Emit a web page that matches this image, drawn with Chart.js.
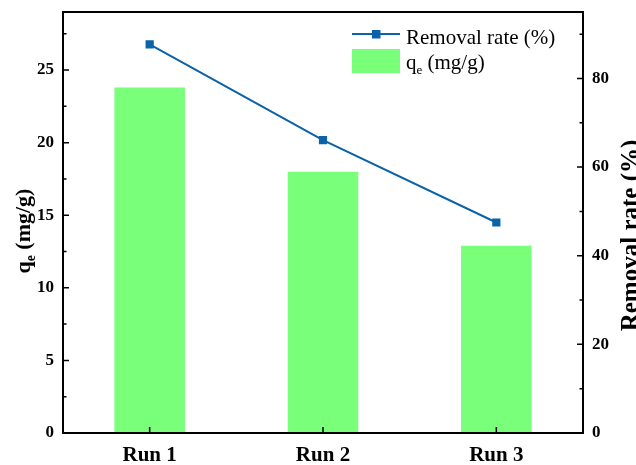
<!DOCTYPE html>
<html>
<head>
<meta charset="utf-8">
<script src="https://cdn.jsdelivr.net/npm/chart.js@4/dist/chart.umd.min.js"></script>
<style>
  html, body { margin: 0; padding: 0; background: #fff; }
  #wrap { width: 636px; height: 465px; position: relative; }
</style>
</head>
<body>
<div id="wrap"><canvas id="c"></canvas></div>
<script>
// Adsorption runs: equilibrium uptake (bars, left axis) and removal rate (line, right axis)
const categories = ['Run 1', 'Run 2', 'Run 3'];
const qeValues = [23.8, 18.0, 12.9];        // q_e in mg/g
const removalRates = [87.7, 66.1, 47.5];     // removal rate in %

const SERIF = '"Liberation Serif", "Times New Roman", serif';
const BAR_COLOR = '#7AFF7A';
const LINE_COLOR = '#0A62A8';

// Draws text with a subscript part, starting at (x, y) on the baseline
function drawSubText(ctx, parts, x, y, size, weight) {
  let cx = x;
  parts.forEach(p => {
    const s = p.sub ? size * 0.62 : size;
    ctx.font = weight + ' ' + s + 'px ' + SERIF;
    ctx.fillText(p.t, cx, y + (p.sub ? size * 0.22 : 0));
    cx += ctx.measureText(p.t).width;
  });
  return cx - x;
}
function measureSubText(ctx, parts, size, weight) {
  let w = 0;
  parts.forEach(p => {
    const s = p.sub ? size * 0.62 : size;
    ctx.font = weight + ' ' + s + 'px ' + SERIF;
    w += ctx.measureText(p.t).width;
  });
  return w;
}

const framePlugin = {
  id: 'frame',
  afterDraw(chart) {
    const ctx = chart.ctx;
    const a = chart.chartArea;
    const x = chart.scales.x, y = chart.scales.y, y2 = chart.scales.y2;
    ctx.save();
    ctx.strokeStyle = '#000';
    ctx.lineWidth = 2;
    ctx.strokeRect(a.left, a.top, a.right - a.left, a.bottom - a.top);

    // inward tick marks
    ctx.lineWidth = 1.5;
    ctx.beginPath();
    y.ticks.map(t => t.value).forEach(v => {
      const py = y.getPixelForValue(v);
      ctx.moveTo(a.left, py); ctx.lineTo(a.left + 6, py);
      const mid = v + 2.5;
      if (mid < y.max) {
        const pm = y.getPixelForValue(mid);
        ctx.moveTo(a.left, pm); ctx.lineTo(a.left + 3.5, pm);
      }
    });
    y2.ticks.map(t => t.value).forEach(v => {
      const py = y2.getPixelForValue(v);
      ctx.moveTo(a.right, py); ctx.lineTo(a.right - 6, py);
      const mid = v + 10;
      if (mid < y2.max) {
        const pm = y2.getPixelForValue(mid);
        ctx.moveTo(a.right, pm); ctx.lineTo(a.right - 3.5, pm);
      }
    });
    categories.forEach((c, i) => {
      const px = x.getPixelForValue(i);
      ctx.moveTo(px, a.bottom); ctx.lineTo(px, a.bottom - 6);
    });
    ctx.stroke();

    // axis titles
    ctx.fillStyle = '#000';
    ctx.textBaseline = 'alphabetic';
    ctx.textAlign = 'left';
    const leftTitle = [{t: 'q'}, {t: 'e', sub: true}, {t: ' (mg/g)'}];
    ctx.save();
    ctx.translate(30, 231);
    ctx.rotate(-Math.PI / 2);
    const lw = measureSubText(ctx, leftTitle, 22, 'bold');
    drawSubText(ctx, leftTitle, -lw / 2, 0, 22, 'bold');
    ctx.restore();

    ctx.save();
    ctx.translate(638, 235.5);
    ctx.rotate(-Math.PI / 2);
    ctx.font = 'bold 25px ' + SERIF;
    ctx.textAlign = 'center';
    ctx.fillText('Removal rate (%)', 0, 0);
    ctx.restore();

    // legend
    const lx = 352;
    ctx.strokeStyle = LINE_COLOR;
    ctx.lineWidth = 2;
    ctx.beginPath();
    ctx.moveTo(lx, 34); ctx.lineTo(lx + 48, 34);
    ctx.stroke();
    ctx.fillStyle = LINE_COLOR;
    ctx.fillRect(lx + 20, 30, 8.5, 8.5);
    ctx.fillStyle = BAR_COLOR;
    ctx.fillRect(lx, 49, 48, 24);
    ctx.fillStyle = '#000';
    ctx.font = '21px ' + SERIF;
    ctx.fillText('Removal rate (%)', 406, 44);
    drawSubText(ctx, [{t: 'q'}, {t: 'e', sub: true}, {t: ' (mg/g)'}], 406, 69, 21, 'normal');
    ctx.restore();
  }
};

function fixVertical(width) {
  return function (s) {
    s.width = width;
    s.paddingTop = 0;
    s.paddingBottom = 0;
  };
}

new Chart(document.getElementById('c'), {
  type: 'bar',
  data: {
    labels: categories,
    datasets: [
      {
        type: 'line',
        label: 'Removal rate (%)',
        data: removalRates,
        yAxisID: 'y2',
        borderColor: LINE_COLOR,
        backgroundColor: LINE_COLOR,
        borderWidth: 2,
        pointStyle: 'rect',
        pointRadius: 5.8,
        pointBorderWidth: 0,
        tension: 0,
        order: 0
      },
      {
        type: 'bar',
        label: 'qe (mg/g)',
        data: qeValues,
        yAxisID: 'y',
        backgroundColor: BAR_COLOR,
        borderWidth: 0,
        barPercentage: 0.407,
        categoryPercentage: 1,
        order: 1
      }
    ]
  },
  options: {
    responsive: true,
    maintainAspectRatio: false,
    animation: false,
    layout: { padding: { top: 12, left: 0, right: 0, bottom: 0 } },
    plugins: { legend: { display: false }, tooltip: { enabled: false } },
    scales: {
      x: {
        offset: true,
        grid: { display: false, drawTicks: false },
        border: { display: false },
        ticks: { color: '#000', padding: 10, font: { family: SERIF, size: 21, weight: 'bold' } },
        afterFit(s) { s.height = 32; s.paddingLeft = 0; s.paddingRight = 0; }
      },
      y: {
        position: 'left',
        min: 0, max: 29,
        grid: { display: false, drawTicks: false },
        border: { display: false },
        ticks: { stepSize: 5, includeBounds: false, color: '#000', padding: 9, font: { family: SERIF, size: 17, weight: 'bold' } },
        afterFit: fixVertical(63)
      },
      y2: {
        position: 'right',
        min: 0, max: 95,
        grid: { display: false, drawTicks: false },
        border: { display: false },
        ticks: { stepSize: 20, includeBounds: false, color: '#000', padding: 9, font: { family: SERIF, size: 17, weight: 'bold' } },
        afterFit: fixVertical(53)
      }
    }
  },
  plugins: [framePlugin]
});
</script>
</body>
</html>
